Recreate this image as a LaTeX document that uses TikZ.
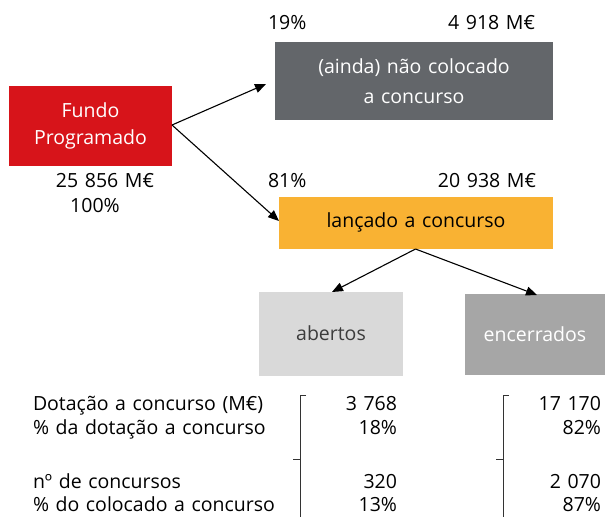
\documentclass[tikz,border=0pt]{standalone}
\usepackage{fontspec}
\setmainfont[WordSpace={1.3,0.5,0.3}]{Open Sans}
\usetikzlibrary{arrows.meta}
\definecolor{fred}{HTML}{D7141A}
\definecolor{fdark}{HTML}{63666A}
\definecolor{forange}{HTML}{F9B233}
\definecolor{flight}{HTML}{D9D9D9}
\definecolor{fmid}{HTML}{A6A6A6}
\definecolor{ftext}{HTML}{3C3C3C}
\tikzset{
  box/.style={inner sep=0pt, outer sep=0pt, align=center},
  lbl/.style={inner sep=0pt, outer sep=0pt},
  conn/.style={line width=1.1pt, -{Triangle[length=11pt,width=9pt]}},
  brk/.style={line width=0.9pt, draw=black!80},
}
\begin{document}
\begin{tikzpicture}[x=1pt,y=-1pt,font=\fontsize{19.5}{27}\selectfont]
\useasboundingbox (0,0) rectangle (605,517);
% boxes
\node[box, fill=fred, text=white, minimum width=163pt, minimum height=80pt] (fp) at (90.5,126) {Fundo\\Programado};
\node[box, fill=fdark, text=white, minimum width=278pt, minimum height=78pt, font=\fontsize{19.5}{30}\selectfont] (nc) at (414,81) {(ainda) não colocado\\a concurso};
\node[box, fill=forange, text=black, minimum width=274pt, minimum height=52pt] (lc) at (416,222.5) {lançado a concurso};
\node[box, fill=flight, text=ftext, minimum width=144pt, minimum height=84pt] (ab) at (331,333.5) {abertos};
\node[box, fill=fmid, text=white, minimum width=140pt, minimum height=81pt] (en) at (535,334.5) {encerrados};
% top labels
\node[lbl, anchor=base west] (p19) at (268,29) {19\%};
\node[lbl, anchor=base east] (v19) at (535,29) {4 918 M€};
\node[lbl, anchor=base west] (p81) at (268,187) {81\%};
\node[lbl, anchor=base east] (v81) at (536,187) {20 938 M€};
\node[lbl, anchor=base] (vfp) at (105,187) {25 856 M€};
\node[lbl, anchor=base] (pfp) at (95,212) {100\%};
% connectors
\coordinate (t1) at (266,84);
\coordinate (t2) at (279,221);
\coordinate (s0) at (172,125);
\coordinate (s1) at (415.5,249);
\coordinate (t3) at (332,292);
\coordinate (t4) at (537,295);
\draw[conn] (s0) -- (t1);
\draw[conn] (s0) -- (t2);
\draw[conn] (s1) -- (t3);
\draw[conn] (s1) -- (t4);
% table labels
\node[lbl, anchor=base west] (r1) at (33,410) {Dotação a concurso (M€)};
\node[lbl, anchor=base west] (r2) at (33,434) {\% da dotação a concurso};
\node[lbl, anchor=base west] (r3) at (33,488) {nº de concursos};
\node[lbl, anchor=base west] (r4) at (33,511) {\% do colocado a concurso};
% values
\node[lbl, anchor=base east] (a1) at (397,410) {3 768};
\node[lbl, anchor=base east] (a2) at (397,434) {18\%};
\node[lbl, anchor=base east] (a3) at (397,488) {320};
\node[lbl, anchor=base east] (a4) at (397,511) {13\%};
\node[lbl, anchor=base east] (e1) at (601,410) {17 170};
\node[lbl, anchor=base east] (e2) at (601,434) {82\%};
\node[lbl, anchor=base east] (e3) at (601,488) {2 070};
\node[lbl, anchor=base east] (e4) at (601,511) {87\%};
% brackets
\draw[brk] (306,395.5) -- (300.5,395.5) -- (300.5,517);
\draw[brk] (293,459) -- (300.5,459);
\draw[brk] (509,395.5) -- (503.5,395.5) -- (503.5,517);
\draw[brk] (496,459) -- (503.5,459);
\end{tikzpicture}
\end{document}
